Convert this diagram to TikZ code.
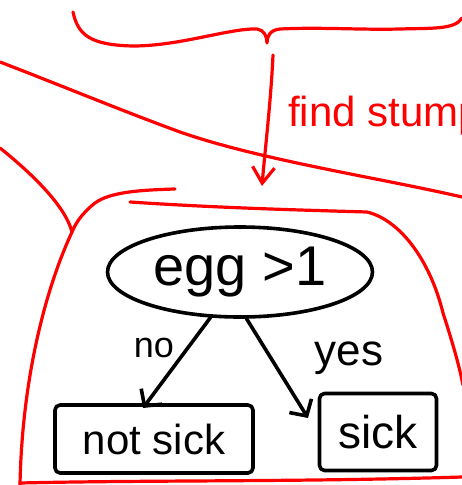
\documentclass[tikz,border=0pt]{standalone}
\usepackage{fontspec}
\setmainfont{Liberation Sans}
\usetikzlibrary{shapes.geometric,arrows.meta}
\tikzset{
  redline/.style={draw=red, line width=3.2pt, line cap=round, line join=round},
  blackline/.style={draw=black, line width=3.6pt, line cap=round, line join=round},
  leafbox/.style={blackline, rounded corners=5pt, inner sep=0pt},
  arrowtip/.style={-{Straight Barb[length=12pt,width=26pt,line width=3.6pt]}},
  redtip/.style={-{Straight Barb[length=16pt,width=22pt,line width=3.2pt]}},
  lbl/.style={inner sep=0pt}
}
\begin{document}
\begin{tikzpicture}[x=1pt,y=-1pt]
\useasboundingbox (0,0) rectangle (462,485);
% brace
\draw[redline] (73,12) .. controls (78,35) and (90,45) .. (133,46)
  .. controls (180,46) and (230,28) .. (257,29)
  .. controls (264,30) and (267,36) .. (267,43)
  .. controls (267,36) and (270,30) .. (280,29)
  .. controls (320,27) and (360,30) .. (400,29)
  .. controls (430,28) and (455,30) .. (462,18);
% find stump
\coordinate (arrS) at (273,55);
\coordinate (arrE) at (262,186);
\draw[redline, redtip] (arrS) .. controls (271,100) and (265,150) .. (arrE);
\node[anchor=base west, text=red, inner sep=0pt, font=\fontsize{42}{42}\selectfont] (fs) at (288,126) {find stump};
% long line
\coordinate (l1) at (0,62);
\coordinate (l2) at (462,197);
\draw[redline] (l1) .. controls (60,85) and (120,110) .. (180,132)
  .. controls (260,160) and (380,178) .. (l2);
% region
\coordinate (ra) at (0,148);
\coordinate (rb) at (72,232);
\draw[redline] (ra) .. controls (30,172) and (65,205) .. (rb);
\draw[redline] (175,189) .. controls (140,190) and (110,192) .. (95,203)
  .. controls (80,215) and (75,225) .. (rb)
  .. controls (45,290) and (22,380) .. (20,485);
\draw[redline] (130,202) .. controls (220,208) and (300,210) .. (367,212)
  .. controls (400,220) and (430,260) .. (443,313)
  .. controls (455,350) and (460,370) .. (463,385);
\draw[redline] (20,483) .. controls (150,480) and (300,482) .. (462,477);
% tree
\node[blackline, ellipse, minimum width=265pt, minimum height=90pt, inner sep=0pt,
  font=\fontsize{56}{56}\selectfont] (q) at (240,272) {egg >1};
\node[leafbox, minimum width=198pt, minimum height=68pt,
  font=\fontsize{42}{42}\selectfont] (ns) at (154,439) {not sick};
\node[leafbox, minimum width=117pt, minimum height=77pt,
  font=\fontsize{46}{46}\selectfont] (sk) at (378,432) {sick};
\coordinate (ntip) at (143,408);
\coordinate (ytip) at (308,418);
\draw[blackline, arrowtip] (q.237) -- (ntip);
\draw[blackline, arrowtip] (q.278) -- (ytip);
\node[lbl, font=\fontsize{36}{36}\selectfont] (no) at (154,348) {no};
\node[lbl, font=\fontsize{44}{44}\selectfont] (yes) at (349,358) {yes};
\end{tikzpicture}
\end{document}
